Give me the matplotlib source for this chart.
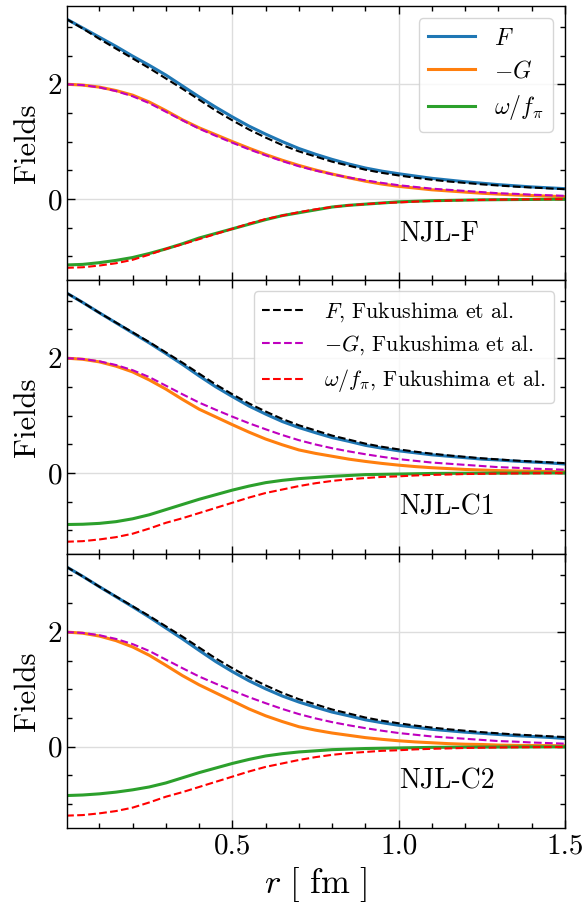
import numpy as np
import matplotlib
matplotlib.use("Agg")
import matplotlib.pyplot as plt
from matplotlib.ticker import MultipleLocator

plt.rcParams["font.family"] = "serif"
plt.rcParams["font.serif"] = ["cmr10"]
plt.rcParams["mathtext.fontset"] = "cm"
plt.rcParams["axes.formatter.use_mathtext"] = True

# radial grid [fm]
r = np.array([0.00, 0.05, 0.10, 0.15, 0.20, 0.25, 0.30, 0.35, 0.40, 0.45,
              0.50, 0.55, 0.60, 0.65, 0.70, 0.75, 0.80, 0.85, 0.90, 0.95,
              1.00, 1.05, 1.10, 1.15, 1.20, 1.25, 1.30, 1.35, 1.40, 1.45, 1.50])

# reference profiles (Fukushima et al.)
F_fuk = [3.14, 2.97, 2.79, 2.62, 2.45, 2.28, 2.10, 1.92, 1.73, 1.54,
         1.37, 1.21, 1.07, 0.94, 0.83, 0.74, 0.65, 0.58, 0.51, 0.455,
         0.41, 0.37, 0.335, 0.305, 0.28, 0.255, 0.235, 0.215, 0.20, 0.185, 0.17]
G_fuk = [2.00, 1.985, 1.945, 1.88, 1.79, 1.67, 1.52, 1.37, 1.225, 1.10,
         0.98, 0.865, 0.76, 0.66, 0.57, 0.495, 0.43, 0.375, 0.325, 0.28,
         0.24, 0.21, 0.18, 0.16, 0.14, 0.12, 0.10, 0.09, 0.075, 0.065, 0.055]
w_fuk = [-1.20, -1.19, -1.16, -1.12, -1.06, -0.97, -0.87, -0.79, -0.70, -0.61,
         -0.52, -0.43, -0.35, -0.29, -0.23, -0.18, -0.14, -0.11, -0.09, -0.07,
         -0.06, -0.045, -0.035, -0.028, -0.02, -0.016, -0.012, -0.009, -0.007, -0.005, -0.004]

# NJL-F
F_f = [3.14, 2.98, 2.82, 2.66, 2.49, 2.33, 2.16, 1.97, 1.78, 1.60,
       1.43, 1.27, 1.13, 1.00, 0.88, 0.78, 0.69, 0.61, 0.54, 0.485,
       0.44, 0.40, 0.36, 0.33, 0.30, 0.275, 0.25, 0.23, 0.21, 0.195, 0.18]
G_f = [2.00, 1.985, 1.95, 1.89, 1.81, 1.69, 1.54, 1.38, 1.24, 1.12,
       1.00, 0.885, 0.775, 0.675, 0.585, 0.505, 0.435, 0.37, 0.31, 0.26,
       0.22, 0.19, 0.16, 0.14, 0.12, 0.10, 0.085, 0.07, 0.06, 0.05, 0.04]
w_f = [-1.15, -1.14, -1.11, -1.07, -1.02, -0.95, -0.87, -0.78, -0.68, -0.60,
       -0.52, -0.44, -0.36, -0.29, -0.24, -0.19, -0.14, -0.11, -0.09, -0.07,
       -0.05, -0.04, -0.03, -0.025, -0.02, -0.015, -0.012, -0.01, -0.008, -0.006, -0.005]

# NJL-C1
F_c1 = [3.14, 2.97, 2.79, 2.615, 2.44, 2.265, 2.08, 1.89, 1.69, 1.50,
        1.33, 1.165, 1.025, 0.895, 0.79, 0.70, 0.615, 0.55, 0.48, 0.43,
        0.385, 0.35, 0.315, 0.29, 0.265, 0.24, 0.225, 0.205, 0.19, 0.175, 0.155]
G_c1 = [2.00, 1.98, 1.935, 1.86, 1.76, 1.62, 1.46, 1.28, 1.11, 0.975,
        0.84, 0.71, 0.59, 0.49, 0.40, 0.34, 0.29, 0.24, 0.20, 0.165,
        0.135, 0.11, 0.09, 0.075, 0.06, 0.05, 0.04, 0.035, 0.03, 0.025, 0.02]
w_c1 = [-0.90, -0.895, -0.88, -0.85, -0.80, -0.73, -0.64, -0.55, -0.46, -0.38,
        -0.30, -0.23, -0.17, -0.13, -0.10, -0.08, -0.06, -0.045, -0.03, -0.025,
        -0.02, -0.015, -0.01, -0.008, -0.006, -0.005, -0.004, -0.003, -0.002, -0.002, -0.001]

# NJL-C2
F_c2 = [3.14, 2.97, 2.79, 2.615, 2.44, 2.26, 2.07, 1.88, 1.68, 1.485,
        1.31, 1.15, 1.01, 0.885, 0.78, 0.69, 0.605, 0.54, 0.47, 0.42,
        0.375, 0.34, 0.305, 0.28, 0.255, 0.235, 0.215, 0.195, 0.18, 0.165, 0.145]
G_c2 = [2.00, 1.98, 1.93, 1.85, 1.74, 1.595, 1.42, 1.24, 1.08, 0.94,
        0.80, 0.66, 0.54, 0.44, 0.35, 0.29, 0.24, 0.20, 0.16, 0.13,
        0.105, 0.085, 0.07, 0.055, 0.045, 0.04, 0.03, 0.025, 0.022, 0.02, 0.018]
w_c2 = [-0.85, -0.84, -0.82, -0.79, -0.75, -0.70, -0.63, -0.54, -0.45, -0.37,
        -0.29, -0.22, -0.16, -0.12, -0.09, -0.07, -0.05, -0.04, -0.03, -0.025,
        -0.02, -0.015, -0.01, -0.008, -0.006, -0.005, -0.004, -0.003, -0.002, -0.002, -0.001]

models = ["NJL-F", "NJL-C1", "NJL-C2"]
F_all = [F_f, F_c1, F_c2]
G_all = [G_f, G_c1, G_c2]
w_all = [w_f, w_c1, w_c2]

fig, axes = plt.subplots(3, 1, figsize=(5.86, 9.11), dpi=100, sharex=True)
fig.subplots_adjust(left=0.114, right=0.964, top=0.993, bottom=0.091, hspace=0)

for i, ax in enumerate(axes):
    l1, = ax.plot(r, F_all[i], color="C0", lw=2.2, label=r"$F$")
    l2, = ax.plot(r, G_all[i], color="C1", lw=2.2, label=r"$-G$")
    l3, = ax.plot(r, w_all[i], color="C2", lw=2.2, label=r"$\omega/f_\pi$")
    d1, = ax.plot(r, F_fuk, "k--", lw=1.5, label=r"$F$, Fukushima et al.")
    d2, = ax.plot(r, G_fuk, "m--", lw=1.5, label=r"$-G$, Fukushima et al.")
    d3, = ax.plot(r, w_fuk, "r--", lw=1.5, label=r"$\omega/f_\pi$, Fukushima et al.")

    ax.text(1.0, -0.73, models[i], fontsize=20)
    ax.set_ylabel("Fields", fontsize=22)
    ax.set_xlim(0.002, 1.5)
    ax.yaxis.set_major_locator(MultipleLocator(2))
    ax.yaxis.set_minor_locator(MultipleLocator(0.5))
    ax.xaxis.set_major_locator(MultipleLocator(0.5))
    ax.xaxis.set_minor_locator(MultipleLocator(0.1))
    ax.grid(True, which="major", color="#dddddd", lw=1.0)
    ax.tick_params(which="both", direction="in", top=True, right=True,
                   labelsize=21, width=1.0)
    ax.tick_params(which="major", length=6)
    ax.tick_params(which="minor", length=3.5)
    for s in ax.spines.values():
        s.set_linewidth(1.0)

    if i == 0:
        ax.legend(handles=[l1, l2, l3], loc="upper right", fontsize=17,
                  labelspacing=0.45)
    elif i == 1:
        ax.legend(handles=[d1, d2, d3], loc="upper right", fontsize=15.8,
                  labelspacing=0.45)

axes[-1].set_xticks([0.5, 1.0, 1.5])
axes[-1].set_xticklabels(["0.5", "1.0", "1.5"])
axes[-1].set_xlabel(r"$r\ [\ \mathrm{fm}\ ]$", fontsize=25)
fig.align_ylabels(axes)

fig.savefig("out.png", dpi=100)
